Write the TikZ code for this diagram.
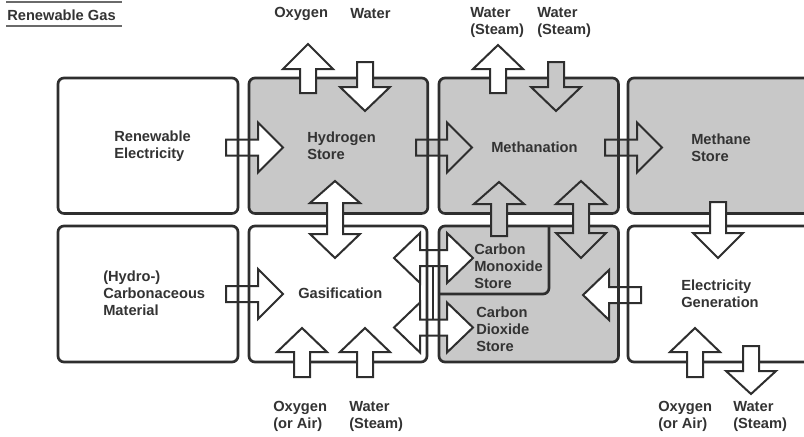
\documentclass[tikz,border=0pt]{standalone}
\usepackage{fontspec}
\setmainfont{Liberation Sans}
\definecolor{ink}{HTML}{2E2E2E}
\definecolor{txt}{HTML}{333333}
\definecolor{cellgrey}{HTML}{C8C8C8}
\definecolor{rulegrey}{HTML}{6A6A6A}
\newcommand\ArrV[5]{% style, cx, tip y, base y, end y
  \draw[#1] ({#2-8},#5) -- ({#2-8},#4) -- ({#2-25},#4) -- (#2,#3) -- ({#2+25},#4) -- ({#2+8},#4) -- ({#2+8},#5) -- cycle;}
\newcommand\ArrH[5]{% style, cy, tip x, base x, end x
  \draw[#1] (#5,{#2-8}) -- (#4,{#2-8}) -- (#4,{#2-25}) -- (#3,#2) -- (#4,{#2+25}) -- (#4,{#2+8}) -- (#5,{#2+8}) -- cycle;}
\newcommand\ArrVV[6]{% style, cx, tip1, base1, base2, tip2
  \draw[#1] ({#2-8},#4) -- ({#2-25},#4) -- (#2,#3) -- ({#2+25},#4) -- ({#2+8},#4) -- ({#2+8},#5) -- ({#2+25},#5) -- (#2,#6) -- ({#2-25},#5) -- ({#2-8},#5) -- cycle;}
\newcommand\ArrHH[6]{% style, cy, tip1, base1, base2, tip2
  \draw[#1] (#4,{#2-8}) -- (#4,{#2-25}) -- (#3,#2) -- (#4,{#2+25}) -- (#4,{#2+8}) -- (#5,{#2+8}) -- (#5,{#2+25}) -- (#6,#2) -- (#5,{#2-25}) -- (#5,{#2-8}) -- cycle;}
\begin{document}
\begin{tikzpicture}[x=0.75pt,y=-0.75pt,
  cell/.style={rectangle, rounded corners=4.5pt, inner sep=0pt, outer sep=0pt, anchor=north west, draw=none},
  border/.style={draw=ink, line width=2pt, rounded corners=4.5pt},
  wa/.style={draw=ink, line width=1.5pt, line join=miter, fill=white},
  ga/.style={draw=ink, line width=1.5pt, line join=miter, fill=cellgrey},
  lbl/.style={font=\fontsize{11}{12.75}\selectfont\bfseries, text=txt, align=left, inner sep=0pt, anchor=west}]
\useasboundingbox (0,0) rectangle (804,436);
\clip (0,0) rectangle (804,436);
% title
\draw[rulegrey, line width=1.2pt] (6,2) -- (122,2);
\draw[rulegrey, line width=1.2pt] (6,26) -- (122,26);
\node[lbl] (title) at (7,15) {Renewable Gas};
% cell fills
\node[cell, fill=white, minimum width=135pt, minimum height=101.6pt] (re) at (58,78) {};
\node[cell, fill=cellgrey, minimum width=134.1pt, minimum height=101.6pt] (h2) at (249,78) {};
\node[cell, fill=cellgrey, minimum width=134.6pt, minimum height=101.6pt] (meth) at (439,78) {};
\node[cell, fill=cellgrey, minimum width=150pt, minimum height=101.6pt] (ch4) at (628,78) {};
\node[cell, fill=white, minimum width=135pt, minimum height=102pt] (carb) at (58,226) {};
\node[cell, fill=white, minimum width=133.5pt, minimum height=102pt] (gas) at (249,226) {};
\node[cell, fill=cellgrey, minimum width=134.6pt, minimum height=102pt] (co2cell) at (439,226) {};
\node[cell, fill=white, minimum width=150pt, minimum height=102pt] (elec) at (628,226) {};
% horizontal arrows (under borders)
\draw[wa] (420,258) rectangle (433,327.5);
\ArrH{wa}{147.5}{283}{258}{226}
\ArrH{ga}{147.5}{472}{447}{416}
\ArrH{ga}{147.5}{662}{637}{605}
\ArrH{wa}{294}{283}{258}{226}
\ArrHH{wa}{258}{394}{420}{447}{473}
\ArrHH{wa}{327.5}{394}{420}{447}{473}
\ArrH{wa}{295}{583}{609}{641}
% borders
\foreach \c in {re,h2,meth,ch4,carb,gas,co2cell,elec}
  \draw[border] (\c.south west) rectangle (\c.north east);
\draw[border] (co2cell.north west -| 549,0) -- (549,294) -- (co2cell.west |- 0,294);
% vertical arrows (over borders)
\ArrV{wa}{308}{44}{69}{93}
\ArrV{wa}{365}{111}{87}{62}
\ArrV{wa}{498}{45}{69}{93}
\ArrV{ga}{556}{111}{87}{62}
\ArrVV{wa}{335}{181}{203}{234}{258}
\ArrV{ga}{499}{182}{204}{236}
\ArrVV{ga}{581}{181}{204}{233}{258}
\ArrV{wa}{718}{258}{233}{202}
\ArrV{wa}{302}{328}{352}{377}
\ArrV{wa}{365}{328}{352}{377}
\ArrV{wa}{695}{328}{352}{377}
\ArrV{wa}{751}{394}{371}{346}
% box texts
\node[lbl] (tre) at (114,146) {Renewable\\Electricity};
\node[lbl] (th2) at (307,146) {Hydrogen\\Store};
\node[lbl] (tmeth) at (491,147) {Methanation};
\node[lbl] (tch4) at (691,148) {Methane\\Store};
\node[lbl] (tcarb) at (103,293) {(Hydro-)\\Carbonaceous\\Material};
\node[lbl] (tgas) at (298,293) {Gasification};
\node[lbl] (tco) at (474,266) {Carbon\\Monoxide\\Store};
\node[lbl] (tco2) at (476,329) {Carbon\\Dioxide\\Store};
\node[lbl] (telec) at (681,294) {Electricity\\Generation};
% external labels
\node[lbl] (lo2a) at (274,14) {Oxygen};
\node[lbl] (lh2oa) at (350,14) {Water};
\node[lbl] (lst1) at (470,22.5) {Water\\(Steam)};
\node[lbl] (lst2) at (537,22.5) {Water\\(Steam)};
\node[lbl] (lo2b) at (273,416.5) {Oxygen\\(or Air)};
\node[lbl] (lst3) at (349,416.5) {Water\\(Steam)};
\node[lbl] (lo2c) at (658,416.5) {Oxygen\\(or Air)};
\node[lbl] (lst4) at (733,416.5) {Water\\(Steam)};
\end{tikzpicture}
\end{document}
